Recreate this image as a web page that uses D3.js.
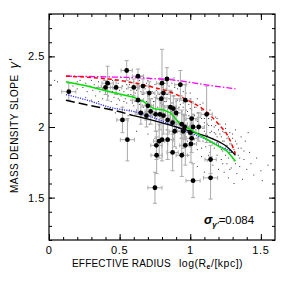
<!DOCTYPE html>
<html>
<head>
<meta charset="utf-8">
<script src="https://cdn.jsdelivr.net/npm/d3@7"></script>
<style>
  body { margin: 0; background: #fff; }
  svg text { font-family: "Liberation Sans", Arial, sans-serif; fill: #000; }
</style>
</head>
<body>
<svg id="chart" width="283" height="283"></svg>
<script>
// lens galaxies: log Re, slope, errors
var galX = [0.14,0.55,0.63,0.415,0.40,0.475,0.60,0.665,0.63,0.71,0.70,0.65,0.52,0.555,0.75,0.80,0.835,0.93,0.755,0.795,0.81,0.785,0.81,0.84,0.86,0.88,0.90,0.875,0.89,0.94,0.96,0.95,1.00,1.01,1.02,1.01,1.005,0.965,0.94,0.875,0.84,0.80,0.78,0.76,0.762,1.02,1.144,1.144,1.116,1.06,0.965,0.72,0.69];
var galY = [2.25,2.40,2.36,2.31,2.28,2.28,2.28,2.29,2.19,2.24,2.15,2.10,2.05,1.91,1.57,2.31,2.34,2.30,2.09,2.20,2.24,2.09,2.08,2.05,2.14,2.13,2.10,2.03,1.97,2.02,2.00,1.97,1.96,2.06,2.00,1.92,1.88,1.87,1.80,1.82,1.91,1.91,1.90,1.87,1.80,1.62,1.64,1.77,2.09,2.00,2.19,2.11,2.08];
var galXerr = [0.05,0.04,0.04,0.04,0.05,0.04,0.04,0.04,0.04,0.04,0.04,0.04,0.04,0.05,0.05,0.04,0.05,0.04,0.04,0.04,0.04,0.04,0.04,0.04,0.04,0.04,0.04,0.04,0.04,0.04,0.04,0.04,0.04,0.04,0.04,0.04,0.04,0.04,0.04,0.04,0.04,0.04,0.04,0.04,0.04,0.05,0.05,0.04,0.04,0.04,0.04,0.04,0.04];
var galYerr = [0.06,0.07,0.05,0.12,0.05,0.05,0.06,0.05,0.10,0.08,0.10,0.08,0.09,0.15,0.11,0.24,0.08,0.10,0.12,0.10,0.09,0.11,0.13,0.10,0.12,0.09,0.10,0.12,0.11,0.10,0.09,0.12,0.10,0.12,0.09,0.10,0.13,0.14,0.15,0.13,0.14,0.15,0.12,0.10,0.13,0.12,0.15,0.10,0.20,0.10,0.11,0.09,0.08];

// simulated galaxies (small dots)
var simDots = [
 [0.04,2.33],[0.06,2.32],[0.2,2.32],[0.22,2.33],[0.17,2.29],[0.19,2.31],[0.2,2.27],[0.22,2.30],
 [0.24,2.28],[0.26,2.31],[0.27,2.25],[0.29,2.29],[0.3,2.33],[0.31,2.26],[0.32,2.30],[0.33,2.22],[0.34,2.28],[0.35,2.32],[0.36,2.25],[0.37,2.29],[0.38,2.20],[0.38,2.27],[0.39,2.33],[0.4,2.24],[0.26,2.21],[0.3,2.19],[0.35,2.18],
 [0.41,2.27],[0.42,2.22],[0.43,2.30],[0.44,2.18],[0.45,2.25],[0.45,2.33],[0.46,2.21],[0.47,2.28],[0.48,2.16],[0.48,2.24],[0.49,2.31],[0.5,2.19],[0.5,2.26],[0.51,2.22],[0.52,2.29],[0.52,2.14],[0.53,2.25],[0.54,2.20],[0.54,2.32],[0.55,2.17],[0.55,2.27],[0.56,2.23],[0.57,2.12],[0.57,2.30],[0.58,2.19],[0.58,2.26],[0.59,2.22],[0.6,2.15],[0.6,2.29],[0.43,2.13],[0.47,2.10],[0.51,2.35],[0.56,2.08],
 [0.61,2.24],[0.61,2.18],[0.62,2.31],[0.62,2.12],[0.63,2.27],[0.63,2.21],[0.64,2.16],[0.64,2.33],[0.65,2.25],[0.65,2.08],[0.66,2.19],[0.66,2.29],[0.67,2.14],[0.67,2.23],[0.68,2.27],[0.68,2.05],[0.69,2.18],[0.69,2.31],[0.7,2.11],[0.7,2.22],[0.71,2.26],[0.71,2.02],[0.72,2.16],[0.72,2.29],[0.73,2.20],[0.73,2.09],[0.74,2.24],[0.74,2.13],[0.75,2.30],[0.75,2.18],[0.76,2.06],[0.76,2.22],[0.77,2.27],[0.77,2.14],[0.78,2.19],[0.78,2.01],[0.79,2.24],[0.79,2.10],[0.8,2.28],[0.8,2.16],[0.62,1.97],[0.7,1.95],[0.75,1.92],[0.66,2.36],[0.72,2.34],
 [0.81,2.21],[0.81,2.05],[0.82,2.26],[0.82,2.12],[0.83,2.18],[0.83,1.98],[0.84,2.23],[0.84,2.08],[0.85,2.15],[0.85,2.29],[0.86,2.02],[0.86,2.20],[0.87,2.11],[0.87,2.25],[0.88,1.95],[0.88,2.17],[0.89,2.06],[0.89,2.22],[0.9,2.13],[0.9,1.99],[0.91,2.19],[0.91,2.27],[0.92,2.04],[0.92,2.10],[0.93,2.16],[0.93,1.92],[0.94,2.22],[0.94,2.01],[0.95,2.08],[0.95,2.14],[0.96,1.96],[0.96,2.19],[0.97,2.05],[0.97,2.24],[0.98,2.11],[0.98,1.90],[0.99,2.16],[0.99,2.00],[1.0,2.07],[1.0,2.20],[0.84,1.88],[0.9,1.85],[0.95,1.82],[0.99,1.80],[0.87,2.31],
 [1.01,1.94],[1.01,2.12],[1.02,2.02],[1.02,2.17],[1.03,1.88],[1.03,2.08],[1.04,1.98],[1.04,2.14],[1.05,2.04],[1.05,1.84],[1.06,2.10],[1.06,1.93],[1.07,2.00],[1.07,2.16],[1.08,1.79],[1.08,2.06],[1.09,1.90],[1.09,2.12],[1.1,1.97],[1.1,2.03],[1.11,1.86],[1.11,2.08],[1.12,1.94],[1.12,1.76],[1.13,2.01],[1.13,2.10],[1.14,1.89],[1.14,1.82],[1.15,1.97],[1.15,2.05],[1.16,1.73],[1.16,1.92],[1.17,2.00],[1.17,1.85],[1.18,1.95],[1.18,2.07],[1.19,1.80],[1.19,1.89],[1.2,1.98],[1.2,1.70],[1.05,1.72],[1.1,1.68],
 [1.21,1.86],[1.21,2.02],[1.22,1.93],[1.22,1.77],[1.23,1.97],[1.23,1.83],[1.24,1.68],[1.24,1.90],[1.25,1.80],[1.25,1.99],[1.26,1.74],[1.26,1.87],[1.27,1.93],[1.27,1.64],[1.28,1.82],[1.28,1.96],[1.29,1.71],[1.29,1.88],[1.3,1.78],[1.3,1.92],[1.31,1.60],[1.31,1.84],[1.32,1.74],[1.32,1.98],[1.33,1.67],[1.33,1.88],[1.34,1.80],[1.35,1.72],[1.36,1.85],[1.37,1.63],[1.38,1.77],[1.39,1.90],[1.4,1.70],
 [1.42,1.82],[1.43,1.74],[1.45,1.66],[1.47,1.78],[1.5,1.69],[1.51,1.62],[1.55,1.73],[1.41,1.96],
 [0.46,2.27],[0.49,2.20],[0.53,2.18],[0.55,2.30],[0.58,2.23],[0.59,2.17],[0.62,2.26],[0.64,2.20],[0.66,2.23],[0.67,2.30],[0.69,2.25],[0.7,2.17],[0.71,2.20],[0.73,2.25],[0.74,2.18],[0.76,2.26],[0.77,2.20],[0.78,2.23],[0.79,2.17],[0.8,2.21],
 [0.81,2.13],[0.82,2.18],[0.83,2.23],[0.84,2.15],[0.85,2.20],[0.86,2.10],[0.87,2.17],[0.88,2.22],[0.89,2.13],[0.9,2.18],[0.91,2.08],[0.92,2.14],[0.93,2.20],[0.94,2.11],[0.95,2.17],[0.96,2.06],[0.97,2.12],[0.98,2.18],[0.99,2.08],[1.0,2.13],
 [1.01,2.03],[1.02,2.09],[1.03,2.14],[1.04,2.05],[1.05,2.10],[1.06,2.00],[1.07,2.07],[1.08,2.12],[1.09,1.99],[1.1,2.06],[1.11,1.95],[1.12,2.02],[1.13,2.06],[1.14,1.96],[1.15,2.01],[1.16,1.88],[1.17,1.96],[1.18,2.01],[1.19,1.93],[1.2,1.88],
 [1.21,1.95],[1.22,1.84],[1.23,1.90],[1.24,1.96],[1.25,1.85],[1.26,1.92],[1.27,1.78],[1.28,1.88],[1.29,1.82],[1.3,1.86],[1.31,1.76],[1.32,1.90],[1.34,1.85],[1.35,1.78],[1.36,1.93],[1.38,1.83],
 [0.88,2.05],[0.92,1.97],[0.97,1.93],[1.03,1.91],[1.08,1.85],[1.13,1.80],[1.18,1.77],[1.23,1.74],[1.28,1.70],
 [0.6,2.32],[0.57,2.34],[0.63,2.35],[0.7,2.33],[0.78,2.30],[0.83,2.27],[0.89,2.28],[0.95,2.25],[1.0,2.24],[1.05,2.20],[1.09,2.17],[1.14,2.12],[1.19,2.06],[1.25,2.02],[1.3,1.95]
];

// model curves
var magentaX = [0.12,0.4,0.7,0.9,1.1,1.32];
var magentaY = [2.36,2.355,2.345,2.33,2.30,2.27];
var redX = [0.12,0.3,0.5,0.7,0.85,1.0,1.1,1.2,1.27,1.32];
var redY = [2.36,2.35,2.33,2.29,2.25,2.18,2.12,2.02,1.93,1.81];
var greenX = [0.12,0.27,0.43,0.6,0.67,0.74,0.81,0.86,0.92,0.97,1.07,1.19,1.26,1.32];
var greenY = [2.32,2.29,2.25,2.21,2.18,2.13,2.12,2.10,2.03,2.00,1.94,1.87,1.83,1.76];
var blueX = [0.12,0.27,0.43,0.64,0.83,0.97,1.12,1.26,1.3];
var blueY = [2.23,2.19,2.14,2.10,2.03,1.97,1.91,1.84,1.82];
var blackX = [0.12,0.3,0.45,0.6,0.8,1.0,1.15,1.26,1.32];
var blackY = [2.19,2.15,2.12,2.08,2.03,1.97,1.92,1.86,1.80];

var xTicks = [0, 0.5, 1, 1.5];
var yTicks = [1.5, 2, 2.5];

var L = 49, T = 14, W = 226, H = 226;

var svg = d3.select('#chart');
var x = d3.scaleLinear().domain([0, 1.6]).range([L, L + W]);
var y = d3.scaleLinear().domain([1.2, 2.8]).range([T + H, T]);

var minorX = d3.range(0, 16).map(function(i) { return i / 10; });
var minorY = d3.range(12, 29).map(function(i) { return i / 10; });

// small dots
svg.append('g')
  .selectAll('rect')
  .data(simDots)
  .enter()
  .append('rect')
  .attr('x', function(d) { return x(d[0]) - 0.5; })
  .attr('y', function(d) { return y(d[1]) - 0.5; })
  .attr('width', 1)
  .attr('height', 1)
  .attr('fill', '#333');

// error bars
var gal = galX.map(function(v, i) {
  return { x: v, y: galY[i], ex: galXerr[i], ey: galYerr[i] };
});
var eb = svg.append('g').attr('stroke', '#aaa').attr('stroke-width', 1).attr('fill', 'none');
gal.forEach(function(d) {
  var cx = x(d.x), cy = y(d.y);
  var y1 = y(d.y + d.ey), y2 = y(d.y - d.ey);
  var x1 = x(d.x - d.ex), x2 = x(d.x + d.ex);
  eb.append('path').attr('d',
    'M' + cx + ',' + y1 + 'V' + y2 +
    'M' + (cx - 2) + ',' + y1 + 'H' + (cx + 2) +
    'M' + (cx - 2) + ',' + y2 + 'H' + (cx + 2) +
    'M' + x1 + ',' + cy + 'H' + x2 +
    'M' + x1 + ',' + (cy - 2) + 'V' + (cy + 2) +
    'M' + x2 + ',' + (cy - 2) + 'V' + (cy + 2));
});

// curves
var line = d3.line()
  .x(function(d) { return x(d[0]); })
  .y(function(d) { return y(d[1]); })
  .curve(d3.curveMonotoneX);
var lineStraight = d3.line()
  .x(function(d) { return x(d[0]); })
  .y(function(d) { return y(d[1]); });

function zip(a, b) { return a.map(function(v, i) { return [v, b[i]]; }); }

var blackPts = zip(blackX, blackY);
var curves = [
  { pts: zip(magentaX, magentaY), color: '#ff00ff', dash: '6,2,1.5,2', w: 1.3, gen: line },
  { pts: zip(redX, redY), color: '#ff0000', dash: '4,3', w: 1.5, gen: line },
  { pts: zip(blueX, blueY), color: '#3030ff', dash: '1.2,1.2', w: 1.3, gen: line },
  { pts: blackPts.filter(function(d) { return d[0] <= 0.6; }), color: '#000', dash: '9,4', w: 1.5, gen: line },
  { pts: blackPts.filter(function(d) { return d[0] >= 0.6; }), color: '#000', dash: null, w: 1.3, gen: line },
  { pts: zip(greenX, greenY), color: '#00e000', dash: null, w: 1.5, gen: lineStraight }
];
svg.append('g')
  .selectAll('path')
  .data(curves)
  .enter()
  .append('path')
  .attr('d', function(d) { return d.gen(d.pts); })
  .attr('fill', 'none')
  .attr('stroke', function(d) { return d.color; })
  .attr('stroke-width', function(d) { return d.w; })
  .attr('stroke-dasharray', function(d) { return d.dash; });

// galaxy points
svg.append('g')
  .selectAll('circle')
  .data(gal)
  .enter()
  .append('circle')
  .attr('cx', function(d) { return x(d.x); })
  .attr('cy', function(d) { return y(d.y); })
  .attr('r', 2.4)
  .attr('fill', '#000');

// frame + ticks
svg.append('rect')
  .attr('x', L).attr('y', T).attr('width', W).attr('height', H)
  .attr('fill', 'none').attr('stroke', '#000').attr('stroke-width', 1.2);

function ticks(axis, tr, vals, size) {
  var g = svg.append('g')
    .attr('transform', tr)
    .call(axis.tickValues(vals).tickSize(size).tickFormat(''));
  g.select('.domain').remove();
  g.selectAll('line').attr('stroke', '#000').attr('stroke-width', 1);
}
ticks(d3.axisBottom(x), 'translate(0,' + (T + H) + ')', minorX, -3);
ticks(d3.axisBottom(x), 'translate(0,' + (T + H) + ')', xTicks, -6);
ticks(d3.axisTop(x), 'translate(0,' + T + ')', minorX, -3);
ticks(d3.axisTop(x), 'translate(0,' + T + ')', xTicks, -6);
ticks(d3.axisLeft(y), 'translate(' + L + ',0)', minorY, -3);
ticks(d3.axisLeft(y), 'translate(' + L + ',0)', yTicks, -6);
ticks(d3.axisRight(y), 'translate(' + (L + W) + ',0)', minorY, -3);
ticks(d3.axisRight(y), 'translate(' + (L + W) + ',0)', yTicks, -6);

// tick labels
svg.append('g').selectAll('text')
  .data(xTicks).enter().append('text')
  .attr('x', function(d) { return x(d); })
  .attr('y', 254)
  .attr('text-anchor', 'middle')
  .style('font-size', '11px')
  .style('letter-spacing', '0.6px')
  .text(function(d) { return d; });

svg.append('g').selectAll('text')
  .data(yTicks).enter().append('text')
  .attr('x', L - 4)
  .attr('y', function(d) { return y(d) + 4; })
  .attr('text-anchor', 'end')
  .style('font-size', '11px')
  .style('letter-spacing', '0.6px')
  .text(function(d) { return d; });

// axis titles
svg.append('text')
  .attr('x', 72)
  .attr('y', 267)
  .style('font-size', '10px')
  .style('letter-spacing', '0.2px')
  .text('EFFECTIVE RADIUS');

var xl = svg.append('text')
  .attr('x', 179)
  .attr('y', 267)
  .style('font-size', '10.5px')
  .style('letter-spacing', '0.5px');
xl.append('tspan').text('log(R');
xl.append('tspan').attr('dy', 2).style('font-size', '7px').style('font-weight', 'bold').text('e');
xl.append('tspan').attr('dy', -2).text('/[kpc])');

var yl = svg.append('text')
  .attr('transform', 'translate(18,193) rotate(-90)')
  .style('font-size', '10px')
  .style('letter-spacing', '0.45px');
yl.append('tspan').text('MASS DENSITY SLOPE');
yl.append('tspan').attr('dx', 6).style('font-size', '13px').style('font-style', 'italic').text("\u03B3'");

// sigma annotation
var sg = svg.append('text')
  .attr('x', 204)
  .attr('y', 224)
  .style('font-size', '11.5px');
sg.append('tspan').style('font-weight', 'bold').style('font-style', 'italic').style('font-size', '12.5px').text('\u03C3');
sg.append('tspan').attr('dy', 3).style('font-weight', 'bold').style('font-style', 'italic').style('font-size', '8px').text("\u03B3'");
sg.append('tspan').attr('dy', -3).text('=0.084');
</script>
</body>
</html>
